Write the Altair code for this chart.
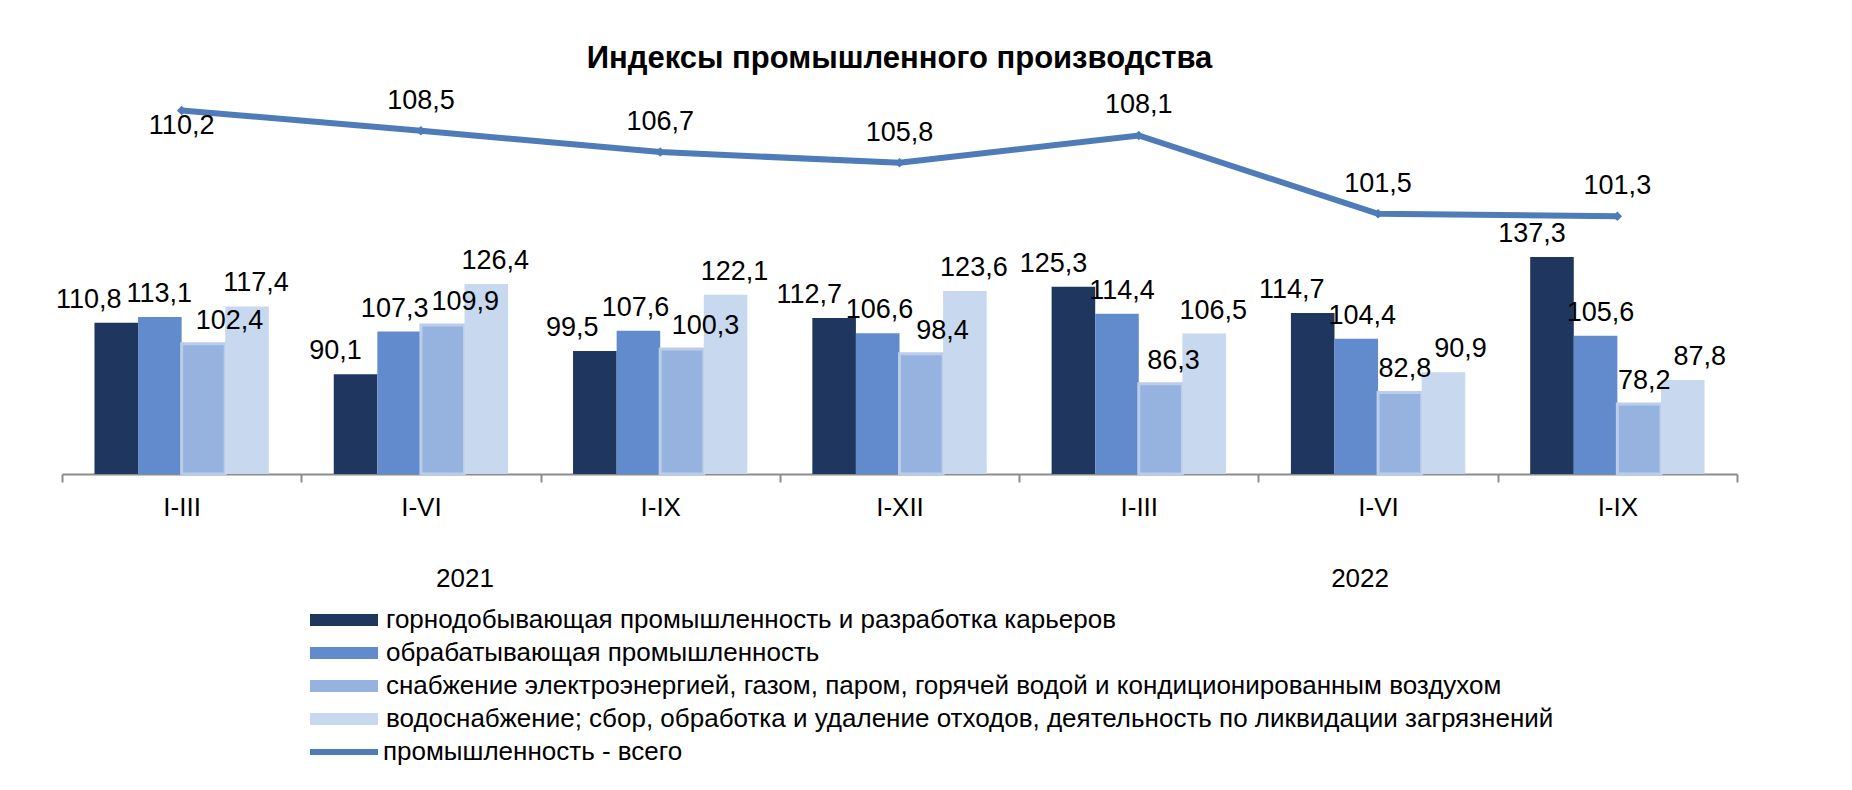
import altair as alt
import pandas as pd

# ---------------- data ----------------
periods = ["I-III", "I-VI", "I-IX", "I-XII", "I-III", "I-VI", "I-IX"]
years = ["2021", "2021", "2021", "2021", "2022", "2022", "2022"]

series_names = [
    "горнодобывающая промышленность и разработка карьеров",
    "обрабатывающая промышленность",
    "снабжение электроэнергией, газом, паром, горячей водой и кондиционированным воздухом",
    "водоснабжение; сбор, обработка и удаление  отходов, деятельность по ликвидации загрязнений",
]
mining = [110.8, 90.1, 99.5, 112.7, 125.3, 114.7, 137.3]
manufacturing = [113.1, 107.3, 107.6, 106.6, 114.4, 104.4, 105.6]
energy = [102.4, 109.9, 100.3, 98.4, 86.3, 82.8, 78.2]
water = [117.4, 126.4, 122.1, 123.6, 106.5, 90.9, 87.8]

total_name = "промышленность - всего"
total = [110.2, 108.5, 106.7, 105.8, 108.1, 101.5, 101.3]

year_labels = ["2021", "2022"]
title_text = "Индексы промышленного производства"

# ---------------- styling / layout ----------------
FONT = "Liberation Sans, Arial, sans-serif"
colors = ["#1f365f", "#618bcd", "#95b3de", "#c8d8ef"]
LINE = "#4f7bb9"
AXIS_GREY = "#8c8c8c"

W, H = 1675, 373
BAR_DOMAIN = [50, 200]
LINE_DOMAIN = [79.6, 111.0]
N_GROUPS = len(periods)
N_SERIES = len(series_names)
OUTER = 0.745                      # outer padding of the in-group (xOffset) band scale
OFF_DOMAIN = N_SERIES + 2 * OUTER  # width of one group, in bar steps
STEP_G = W / N_GROUPS
STEP_B = STEP_G / OFF_DOMAIN
PX_PER_UNIT = H / (BAR_DOMAIN[1] - BAR_DOMAIN[0])
FS = 27                             # data-label font size
LABEL_DY = -15
base_dx = [-20, 5, 13, 9]           # typical horizontal shift of each series' labels


def fmt(v):
    return f"{v:.1f}".replace(".", ",")


keys = [f"{y}|{p}" for y, p in zip(years, periods)]
all_series = [mining, manufacturing, energy, water]

rows = []
for si, (name, vals) in enumerate(zip(series_names, all_series)):
    for k, v in zip(keys, vals):
        rows.append({"key": k, "series": name, "sidx": si, "value": v, "label": fmt(v)})
bars_df = pd.DataFrame(rows)

# ---- data labels: start from the series' usual shift, then push apart colliding labels ----
labs = []
for g in range(N_GROUPS):
    for si in range(N_SERIES):
        v = all_series[si][g]
        txt = fmt(v)
        ndig = sum(c.isdigit() for c in txt)
        labs.append({
            "g": g, "si": si, "key": keys[g], "value": v, "label": txt,
            "cx": g * STEP_G + (OUTER + si + 0.5) * STEP_B + base_dx[si],
            "cy": -((v - BAR_DOMAIN[0]) * PX_PER_UNIT - LABEL_DY + 0.36 * FS),
            "w": (0.556 * ndig + 0.278) * FS,
        })
for _ in range(60):
    moved = False
    for a in range(len(labs)):
        for b in range(a + 1, len(labs)):
            A, B = labs[a], labs[b]
            if abs(A["cy"] - B["cy"]) >= FS:
                continue
            lft, rgt = (A, B) if A["cx"] <= B["cx"] else (B, A)
            ov = (lft["cx"] + lft["w"] / 2 + 3) - (rgt["cx"] - rgt["w"] / 2)
            if ov > 0.5:
                lft["cx"] -= ov / 2
                rgt["cx"] += ov / 2
                moved = True
    if not moved:
        break
labels_df = pd.DataFrame([
    {"key": d["key"], "value": d["value"], "label": d["label"],
     "pos": (d["cx"] - d["g"] * STEP_G) / STEP_B}
    for d in labs
])

line_df = pd.DataFrame({
    "key": keys,
    "value": total,
    "label": [fmt(v) for v in total],
    "idx": list(range(len(total))),
    "name": [total_name] * len(total),
})

year_df = pd.DataFrame({"year": year_labels, "key": ["2021|I-VI", "2022|I-VI"]})

# ---------------- encodings ----------------
xenc = alt.X(
    "key:N",
    sort=keys,
    scale=alt.Scale(domain=keys, paddingInner=0, paddingOuter=0),
    axis=alt.Axis(
        title=None,
        labelExpr="split(datum.label, '|')[1]",
        tickBand="extent",
        labelAngle=0,
        domainColor=AXIS_GREY,
        domainWidth=2,
        tickColor=AXIS_GREY,
        tickWidth=2,
        tickSize=8,
        labelFont=FONT,
        labelFontSize=26,
        labelColor="#000000",
        labelPadding=12,
        grid=False,
    ),
)
xoff = alt.XOffset(
    "series:N",
    sort=series_names,
    scale=alt.Scale(domain=series_names, paddingInner=0, paddingOuter=OUTER),
)
ybar = alt.Y("value:Q", scale=alt.Scale(domain=BAR_DOMAIN, zero=False), axis=None)
yline = alt.Y("value:Q", scale=alt.Scale(domain=LINE_DOMAIN, zero=False), axis=None)

bars = alt.Chart(bars_df).mark_bar(stroke="#bccde9").encode(
    x=xenc,
    xOffset=xoff,
    y=ybar,
    y2=alt.datum(BAR_DOMAIN[0]),
    color=alt.Color(
        "series:N",
        sort=series_names,
        scale=alt.Scale(domain=series_names, range=colors),
        legend=alt.Legend(
            title=None,
            orient="none",
            legendX=248,
            legendY=506,
            direction="vertical",
            symbolType="M-1,-0.18H1V0.18H-1Z",
            symbolSize=4624,
            symbolStrokeWidth=0,
            symbolOpacity=1,
            clipHeight=26,
            rowPadding=7,
            labelFont=FONT,
            labelFontSize=26,
            labelColor="#000000",
            labelLimit=1600,
            labelOffset=8,
            padding=0,
        ),
    ),
    strokeWidth=alt.condition("datum.sidx == 2", alt.value(3), alt.value(0)),
)

bar_labels = alt.Chart(labels_df).mark_text(
    font=FONT, fontSize=FS, color="#000000", baseline="alphabetic", dy=LABEL_DY
).encode(
    x=xenc,
    xOffset=alt.XOffset("pos:Q", scale=alt.Scale(domain=[0, OFF_DOMAIN], zero=False, nice=False)),
    y=ybar,
    text="label:N",
)

line = alt.Chart(line_df).mark_line(
    strokeWidth=6,
    point=alt.OverlayMarkDef(shape="diamond", size=90, filled=True, color=LINE, strokeWidth=0),
).encode(
    x=xenc,
    y=yline,
    stroke=alt.Stroke(
        "name:N",
        scale=alt.Scale(domain=[total_name], range=[LINE]),
        legend=alt.Legend(
            title=None,
            orient="none",
            legendX=248,
            legendY=638,
            symbolType="stroke",
            symbolSize=4624,
            symbolStrokeWidth=6,
            symbolOffset=-3,
            clipHeight=26,
            labelFont=FONT,
            labelFontSize=26,
            labelColor="#000000",
            labelLimit=1600,
            labelOffset=2,
            padding=0,
        ),
    ),
)

line_label_first = (
    alt.Chart(line_df)
    .transform_filter("datum.idx == 0")
    .mark_text(font=FONT, fontSize=FS, color="#000000", baseline="middle", dy=15)
    .encode(x=xenc, y=yline, text="label:N")
)
line_label_rest = (
    alt.Chart(line_df)
    .transform_filter("datum.idx > 0")
    .mark_text(font=FONT, fontSize=FS, color="#000000", baseline="middle", dy=-30)
    .encode(x=xenc, y=yline, text="label:N")
)

year_dx = [44, -18]
year_layers = []
for i, yl in enumerate(year_labels):
    year_layers.append(
        alt.Chart(year_df)
        .transform_filter(f"datum.year == '{yl}'")
        .mark_text(font=FONT, fontSize=26, color="#000000", baseline="middle", dx=year_dx[i])
        .encode(x=xenc, y=alt.value(478), text="year:N")
    )

bar_layer = alt.layer(bars, bar_labels).resolve_scale(xOffset="independent")
line_layer = alt.layer(line, line_label_first, line_label_rest)

chart = (
    alt.layer(bar_layer, line_layer, *year_layers)
    .resolve_scale(y="independent", xOffset="independent")
    .properties(
        width=W,
        height=H,
        padding={"left": 54, "top": 93, "right": 40, "bottom": 300},
        autosize=alt.AutoSizeParams(type="none"),
        title=alt.Title(
            title_text,
            font=FONT,
            fontSize=31,
            fontWeight="bold",
            color="#000000",
            anchor="middle",
            frame="group",
            baseline="alphabetic",
            offset=-12,
        ),
    )
    .configure_view(stroke="transparent", strokeWidth=0)
    .configure(background="white", style={"cell": {"stroke": "transparent", "strokeWidth": 0}})
)

chart.save("out.html", embed_options={"renderer": "svg", "actions": False})
